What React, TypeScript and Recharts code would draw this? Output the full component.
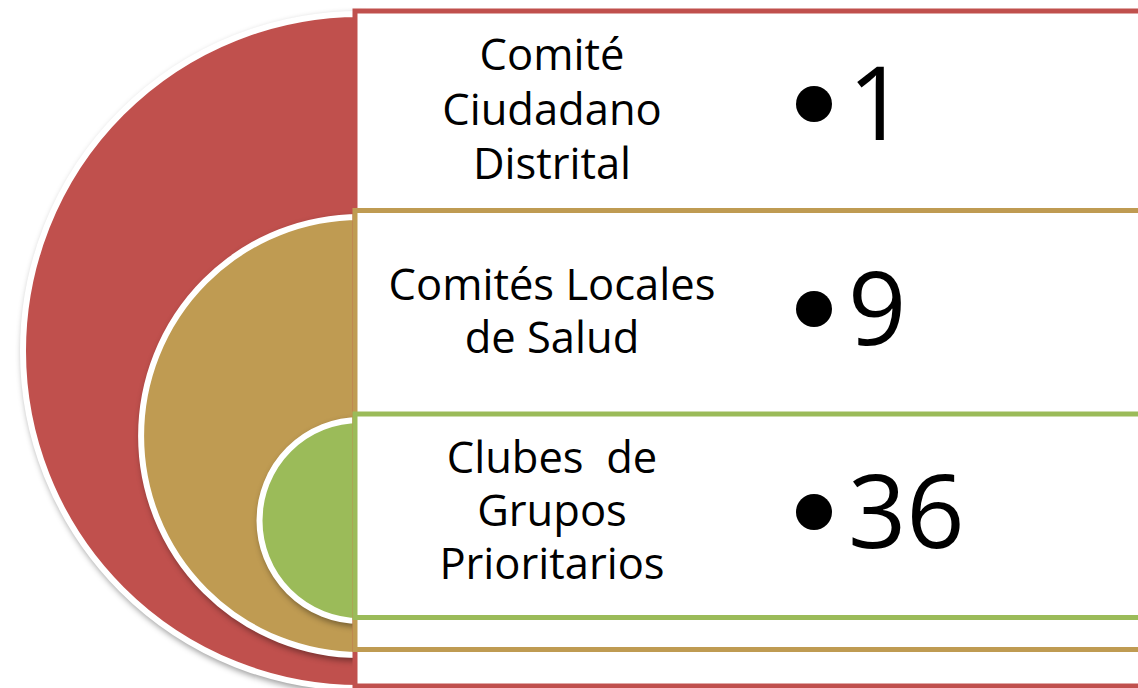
import { PieChart, Pie, Cell } from "recharts"

const LEVELS = ["Comité Ciudadano Distrital", "Comités Locales de Salud", "Clubes  de Grupos Prioritarios"]
const LABEL_LINES = [
  ["Comité", "Ciudadano", "Distrital"],
  ["Comités Locales", "de Salud"],
  ["Clubes  de", "Grupos", "Prioritarios"],
]
const COUNTS = [1, 9, 36]
const COLORS = ["#C0504D", "#BF9B52", "#9BBB59"]

// layout of the nested rings (px)
const RINGS = [
  { cy: 346, r: 337, top: 11, bottom: 686, lineY: [70, 125, 179], numY: 140 },
  { cy: 431, r: 219, top: 210.5, bottom: 649.5, lineY: [300, 353], numY: 345 },
  { cy: 515.5, r: 100.5, top: 414, bottom: 617.5, lineY: [473, 526, 579], numY: 548 },
]

const W = 1138
const H = 688
const CX = 355
const FONT = "'Open Sans', sans-serif"

export default function App() {
  return (
    <div style={{ position: "absolute", left: 0, top: 0, width: W, height: H, overflow: "hidden", background: "#fff" }}>
      <div style={{ position: "absolute", left: 0, top: 0 }}>
        <PieChart width={W} height={H}>
          {LEVELS.map((name, i) => (
            <Pie
              key={name}
              data={[{ name, value: COUNTS[i] }]}
              dataKey="value"
              cx={CX}
              cy={RINGS[i].cy}
              innerRadius={0}
              outerRadius={RINGS[i].r}
              startAngle={90}
              endAngle={270}
              stroke="#ffffff"
              strokeWidth={6}
              isAnimationActive={false}
            >
              <Cell fill={COLORS[i]} style={{ filter: "drop-shadow(2px 3px 3px rgba(0,0,0,0.4))" }} />
            </Pie>
          ))}
        </PieChart>
      </div>
      <svg width={W} height={H} style={{ position: "absolute", left: 0, top: 0 }}>
        {RINGS.map((rg, i) => (
          <rect
            key={"box" + i}
            x={CX}
            y={rg.top}
            width={900}
            height={rg.bottom - rg.top}
            fill="#ffffff"
            stroke={COLORS[i]}
            strokeWidth={5}
          />
        ))}
        {RINGS.map((rg, i) => (
          <g key={"txt" + i} fontFamily={FONT} fill="#000">
            {LABEL_LINES[i].map((line, j) => (
              <text key={j} x={552} y={rg.lineY[j]} textAnchor="middle" fontSize={43.5} xmlSpace="preserve" style={{ whiteSpace: "pre" }}>
                {line}
              </text>
            ))}
            <circle cx={814} cy={rg.numY - 36} r={18} fill="#000" />
            <text x={848} y={rg.numY} fontSize={102}>
              {COUNTS[i]}
            </text>
          </g>
        ))}
      </svg>
    </div>
  )
}
